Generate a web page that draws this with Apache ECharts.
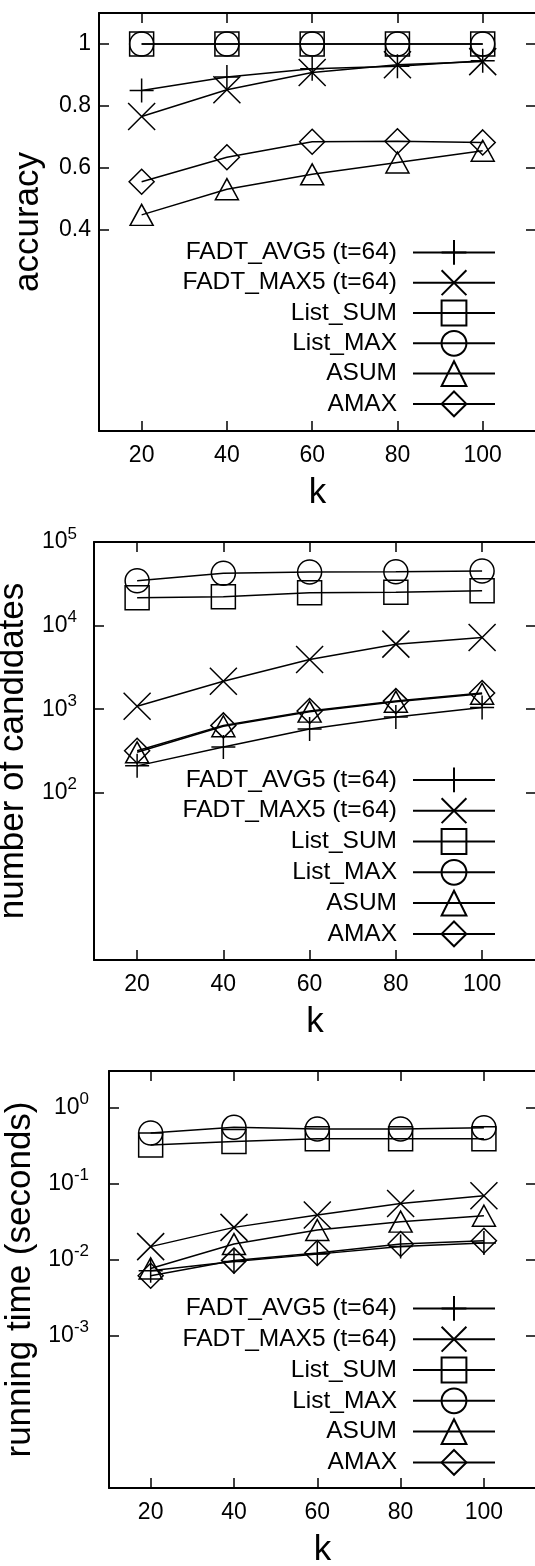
<!DOCTYPE html>
<html>
<head>
<meta charset="utf-8">
<script src="https://cdn.jsdelivr.net/npm/echarts@6/dist/echarts.min.js"></script>
<style>
html,body{margin:0;padding:0;background:#fff;}
#chart{width:535px;height:1566px;}
</style>
</head>
<body>
<div id="chart"></div>
<script>
// ---- data ----
const kValues = [20, 40, 60, 80, 100];
const xTickValues = [20, 40, 60, 80, 100];
const seriesNames = ['FADT_AVG5 (t=64)', 'FADT_MAX5 (t=64)', 'List_SUM', 'List_MAX', 'ASUM', 'AMAX'];

// panel 1: accuracy
const accAvg5   = [0.850, 0.893, 0.920, 0.928, 0.946];
const accMax5   = [0.766, 0.852, 0.908, 0.933, 0.943];
const accSum    = [1.0, 1.0, 1.0, 1.0, 1.0];
const accMax    = [1.0, 1.0, 1.0, 1.0, 1.0];
const accAsum   = [0.448, 0.531, 0.579, 0.617, 0.655];
const accAmax   = [0.555, 0.634, 0.684, 0.686, 0.682];
const accTicks  = [0.4, 0.6, 0.8, 1];

// panel 2: number of candidates
const candAvg5  = [210, 354, 580, 809, 1048];
const candMax5  = [1086, 2165, 3940, 6000, 7220];
const candSum   = [21500, 22100, 24700, 25000, 26100];
const candMax   = [34400, 42200, 43800, 44000, 45000];
const candAsum  = [305, 625, 935, 1230, 1530];
const candAmax  = [318, 640, 950, 1250, 1560];
const candTicks = [1e2, 1e3, 1e4, 1e5];

// panel 3: running time (seconds)
const timeAvg5  = [0.00714, 0.00946, 0.0118, 0.0149, 0.0165];
const timeMax5  = [0.0148, 0.0265, 0.0385, 0.0547, 0.069];
const timeSum   = [0.32, 0.357, 0.388, 0.388, 0.388];
const timeMax   = [0.46, 0.546, 0.52, 0.52, 0.54];
const timeAsum  = [0.00766, 0.016, 0.0245, 0.0315, 0.0377];
const timeAmax  = [0.00614, 0.0097, 0.0122, 0.016, 0.0177];
const timeTicks = [1e-3, 1e-2, 1e-1, 1];

// ---- styling ----
const FONT = '"Liberation Sans", Arial, Helvetica, sans-serif';
const symbols = [
  'path://M0,10L20,10M10,0L10,20',
  'path://M0,0L20,20M20,0L0,20',
  'rect', 'circle', 'triangle', 'diamond'
];
const symbolSizes = [24, 27, 24, 24, [23, 21], 25];

const panels = [
  { name: 'accuracy', type: 'value', min: -0.25, max: 1.1, ticks: accTicks,
    data: [accAvg5, accMax5, accSum, accMax, accAsum, accAmax],
    grid: { left: 99, top: 13, right: -1, bottom: 1135 }, nameGap: 53, labelMargin: 8, legendTop: 239, legendGap: 3.5 },
  { name: 'number of candidates', type: 'log', min: 1, max: 1e5, ticks: candTicks,
    data: [candAvg5, candMax5, candSum, candMax, candAsum, candAmax],
    grid: { left: 94, top: 542, right: -1, bottom: 606 }, nameGap: 48, labelMargin: 17, legendTop: 766.5, legendGap: 4 },
  { name: 'running time (seconds)', type: 'log', min: 1e-5, max: 3, ticks: timeTicks,
    data: [timeAvg5, timeMax5, timeSum, timeMax, timeAsum, timeAmax],
    grid: { left: 109, top: 1071, right: -1, bottom: 78 }, nameGap: 63, labelMargin: 20, legendTop: 1295, legendGap: 4 }
];

const axisLineStyle = { show: true, onZero: false, lineStyle: { color: '#000', width: 2 } };
const tickStyle = (vals) => ({ show: true, inside: true, length: 10, customValues: vals, lineStyle: { color: '#000', width: 1.5 } });

function logLabel(v) {
  const e = Math.round(Math.log10(v));
  return '{b|10}{s|' + e + '}';
}

const grids = [], xAxes = [], yAxes = [], series = [], legends = [];
panels.forEach((p, i) => {
  grids.push(Object.assign({ containLabel: false, outerBoundsMode: 'none' }, p.grid));
  // bottom x
  xAxes.push({
    gridIndex: i, type: 'value', min: 10, max: 112.5, position: 'bottom',
    name: 'k', nameLocation: 'middle', nameGap: 45,
    nameTextStyle: { fontSize: 35, color: '#000', fontFamily: FONT },
    axisLine: axisLineStyle, axisTick: tickStyle(xTickValues),
    axisLabel: { customValues: xTickValues, fontSize: 23, color: '#000', fontFamily: FONT, margin: 13 },
    splitLine: { show: false }
  });
  // left y
  const yLabel = p.type === 'log'
    ? { customValues: p.ticks, formatter: logLabel, margin: p.labelMargin, color: '#000',
        rich: { b: { fontSize: 23, fontFamily: FONT, color: '#000' },
                s: { fontSize: 17, fontFamily: FONT, color: '#000', padding: [0, 0, 16, 0] } } }
    : { customValues: p.ticks, formatter: (v) => String(v), margin: p.labelMargin, fontSize: 23, color: '#000', fontFamily: FONT };
  yAxes.push({
    gridIndex: i, type: p.type, min: p.min, max: p.max, position: 'left',
    name: p.name, nameLocation: 'middle', nameGap: p.nameGap,
    nameTextStyle: { fontSize: 35, color: '#000', fontFamily: FONT },
    axisLine: axisLineStyle, axisTick: tickStyle(p.ticks), axisLabel: yLabel,
    splitLine: { show: false }, minorTick: { show: false }
  });
  // data series
  seriesNames.forEach((nm, s) => {
    series.push({
      name: nm, type: 'line', xAxisIndex: i, yAxisIndex: i,
      data: kValues.map((k, j) => [k, p.data[s][j]]),
      symbol: symbols[s], symbolSize: symbolSizes[s], showAllSymbol: true,
      lineStyle: { color: '#000', width: 1.5 },
      itemStyle: { color: 'rgba(0,0,0,0)', borderColor: '#000', borderWidth: 1.5 },
      emphasis: { disabled: true }, silent: true, clip: false
    });
  });
  legends.push({
    orient: 'vertical', right: 39, top: p.legendTop, align: 'right', padding: 0,
    itemWidth: 82, itemHeight: 31, itemGap: p.legendGap, selectedMode: false,
    data: seriesNames,
    textStyle: { fontSize: 24.5, color: '#000', fontFamily: FONT, padding: [0, 11, 0, 0] }
  });
});
// mirror axes (top / right)
panels.forEach((p, i) => {
  xAxes.push({
    gridIndex: i, type: 'value', min: 10, max: 112.5, position: 'top',
    axisLine: axisLineStyle, axisTick: tickStyle(xTickValues),
    axisLabel: { show: false }, splitLine: { show: false }
  });
  yAxes.push({
    gridIndex: i, type: p.type, min: p.min, max: p.max, position: 'right',
    axisLine: axisLineStyle, axisTick: tickStyle(p.ticks),
    axisLabel: { show: false }, splitLine: { show: false }, minorTick: { show: false }
  });
});

const chart = echarts.init(document.getElementById('chart'), null, { renderer: 'canvas' });
chart.setOption({
  animation: false,
  backgroundColor: '#fff',
  textStyle: { fontFamily: FONT },
  grid: grids, xAxis: xAxes, yAxis: yAxes, legend: legends, series: series
});
</script>
</body>
</html>
